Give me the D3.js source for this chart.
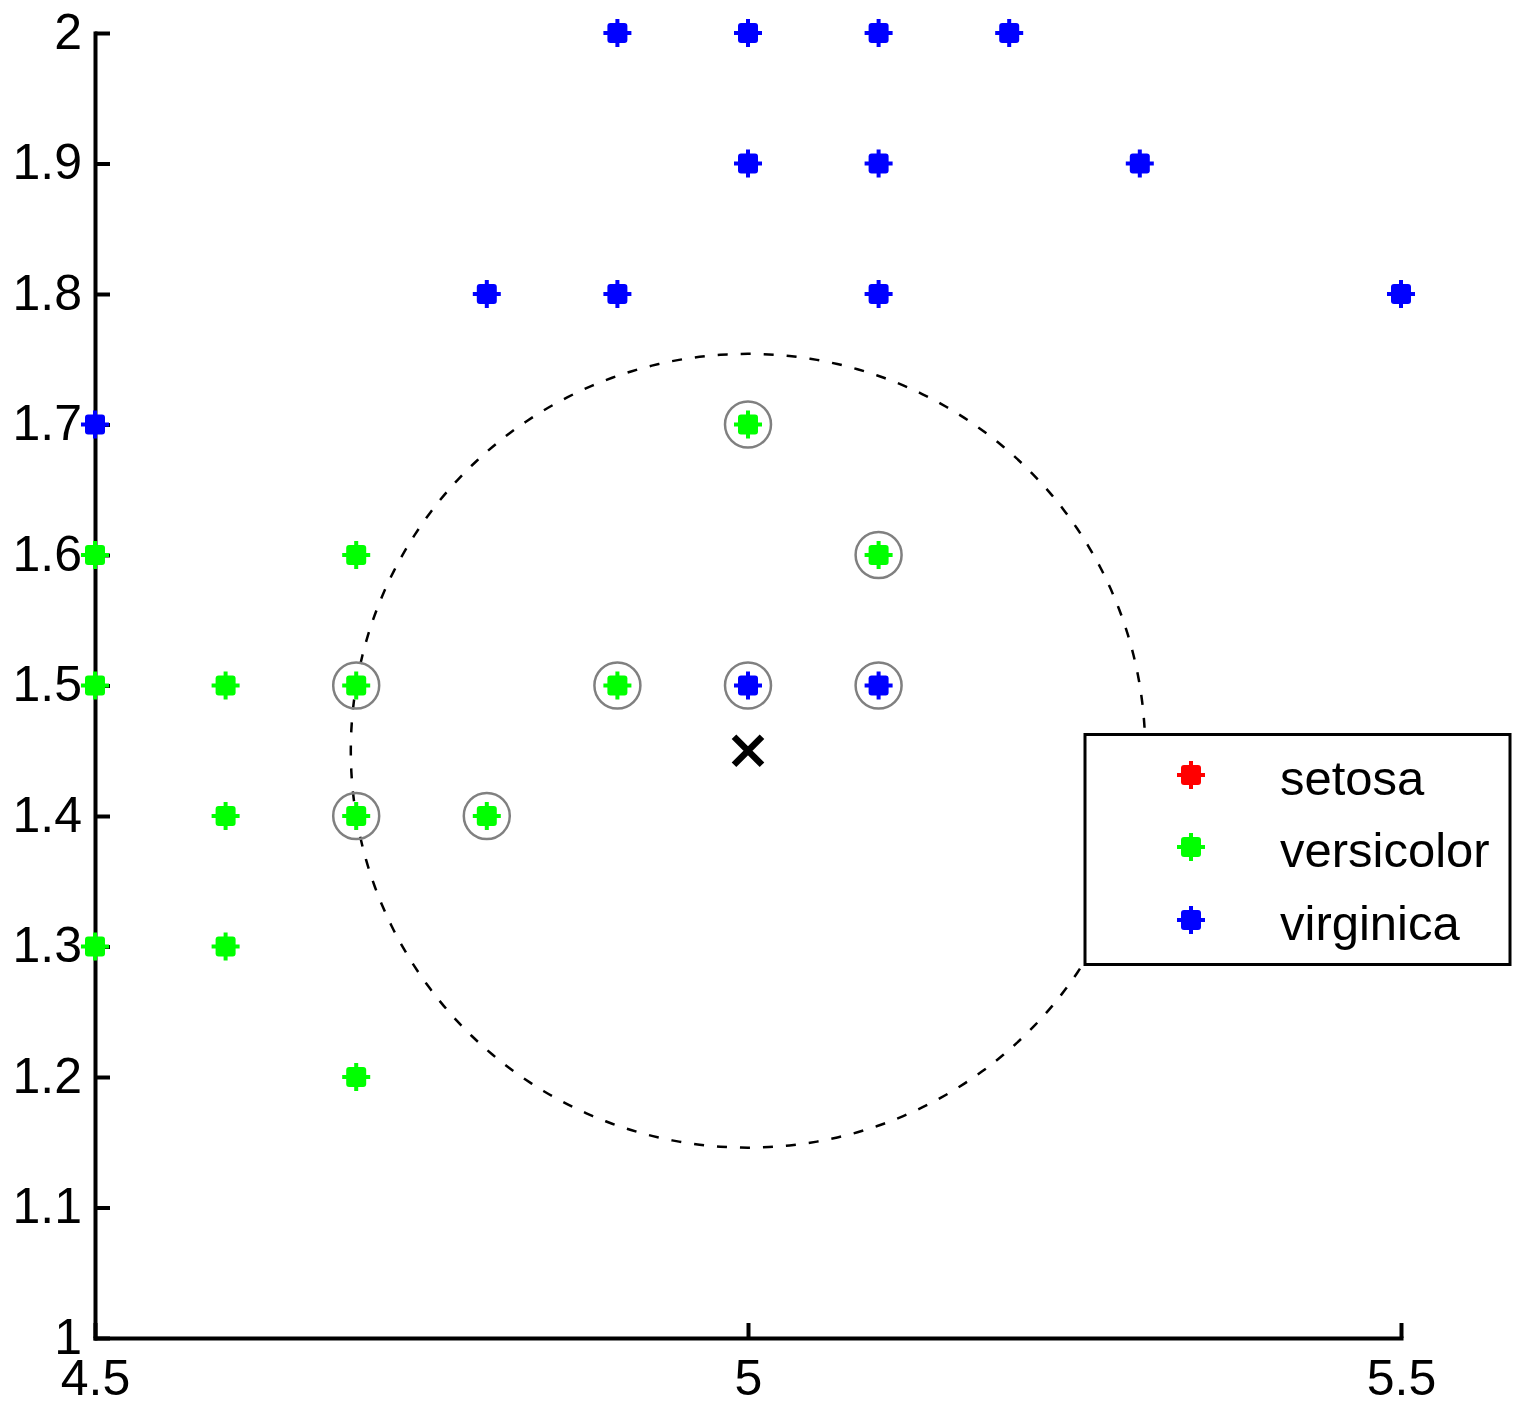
<!DOCTYPE html>
<html>
<head>
<meta charset="utf-8">
<script src="https://cdn.jsdelivr.net/npm/d3@7"></script>
<style>
  html, body { margin: 0; padding: 0; background: #fff; }
  svg { display: block; }
  text { font-family: "Liberation Sans", Arial, sans-serif; }
</style>
</head>
<body>
<script>
// ---- data ----
const classNames = ["setosa", "versicolor", "virginica"];
const classColors = ["#ff0000", "#00ff00", "#0000ff"];

const setosaX = [];
const setosaY = [];
const versicolorX = [5.0, 4.5, 4.7, 5.1, 4.5, 4.6, 4.7, 4.9, 4.6, 4.7, 4.8, 4.5, 4.6, 4.7];
const versicolorY = [1.7, 1.6, 1.6, 1.6, 1.5, 1.5, 1.5, 1.5, 1.4, 1.4, 1.4, 1.3, 1.3, 1.2];
const virginicaX = [4.9, 5.0, 5.1, 5.2, 5.0, 5.1, 5.3, 4.8, 4.9, 5.1, 5.5, 4.5, 5.0, 5.1];
const virginicaY = [2.0, 2.0, 2.0, 2.0, 1.9, 1.9, 1.9, 1.8, 1.8, 1.8, 1.8, 1.7, 1.5, 1.5];

const neighborX = [5.0, 5.1, 4.7, 4.9, 5.0, 5.1, 4.7, 4.8];
const neighborY = [1.7, 1.6, 1.5, 1.5, 1.5, 1.5, 1.4, 1.4];

const queryPoint = [5.0, 1.45];

const xTicks = [4.5, 5, 5.5];
const xTickLabels = ["4.5", "5", "5.5"];
const yTicks = [1, 1.1, 1.2, 1.3, 1.4, 1.5, 1.6, 1.7, 1.8, 1.9, 2];
const yTickLabels = ["1", "1.1", "1.2", "1.3", "1.4", "1.5", "1.6", "1.7", "1.8", "1.9", "2"];

// ---- layout ----
const W = 1518, H = 1405;
const x = d3.scaleLinear().domain([4.5, 5.5]).range([95, 1401]);
const y = d3.scaleLinear().domain([1, 2]).range([1338, 33]);

const svg = d3.select("body").append("svg").attr("width", W).attr("height", H);

// dashed neighbourhood circle
const radius = d3.max(neighborX.map((v, i) => Math.hypot(v - queryPoint[0], neighborY[i] - queryPoint[1])));
const circlePts = d3.range(0, 361).map(a => {
  const t = a * Math.PI / 180;
  return [queryPoint[0] + radius * Math.cos(t), queryPoint[1] + radius * Math.sin(t)];
});
svg.append("path")
  .attr("d", d3.line().x(d => x(d[0])).y(d => y(d[1]))(circlePts))
  .attr("fill", "none").attr("stroke", "#000").attr("stroke-width", 2.5)
  .attr("stroke-dasharray", "10 13");

// axes
const yAxis = d3.axisLeft(y).tickValues(yTicks)
  .tickFormat((d, i) => yTickLabels[i]).tickSizeInner(-15).tickSizeOuter(0).tickPadding(13);
const xAxis = d3.axisBottom(x).tickValues(xTicks)
  .tickFormat((d, i) => xTickLabels[i]).tickSizeInner(-15).tickSizeOuter(0).tickPadding(21);

const gy = svg.append("g").attr("transform", `translate(${x(4.5)},0)`).call(yAxis);
const gx = svg.append("g").attr("transform", `translate(0,${y(1)})`).call(xAxis);
[gx, gy].forEach(g => {
  g.select(".domain").attr("stroke", "#000").attr("stroke-width", 4).attr("stroke-linecap", "square");
  g.selectAll(".tick line").attr("stroke", "#000").attr("stroke-width", 4);
  g.selectAll(".tick text").attr("fill", "#000").attr("font-size", 50)
    .attr("font-family", "'Liberation Sans', Arial, sans-serif");
});
gy.selectAll(".tick text").attr("dy", "0.30em");

// marker
function marker(g, cx, cy, color) {
  const m = g.append("g").attr("transform", `translate(${cx},${cy})`).attr("fill", color);
  m.append("rect").attr("x", -10).attr("y", -10).attr("width", 20).attr("height", 20).attr("rx", 3);
  m.append("rect").attr("x", -14).attr("y", -2).attr("width", 28).attr("height", 4);
  m.append("rect").attr("x", -2).attr("y", -14).attr("width", 4).attr("height", 28);
}

// neighbour rings
svg.append("g").selectAll("circle")
  .data(neighborX.map((v, i) => [v, neighborY[i]]))
  .join("circle")
  .attr("cx", d => x(d[0])).attr("cy", d => y(d[1])).attr("r", 23)
  .attr("fill", "none").attr("stroke", "#808080").attr("stroke-width", 2.5);

// points
const series = [[setosaX, setosaY], [versicolorX, versicolorY], [virginicaX, virginicaY]];
const gp = svg.append("g");
series.forEach((s, k) => {
  s[0].forEach((v, i) => marker(gp, x(v), y(s[1][i]), classColors[k]));
});

// query point X
const qx = x(queryPoint[0]), qy = y(queryPoint[1]);
svg.append("path")
  .attr("d", `M${qx - 14},${qy - 14}L${qx + 14},${qy + 14}M${qx + 14},${qy - 14}L${qx - 14},${qy + 14}`)
  .attr("stroke", "#000").attr("stroke-width", 6.5).attr("fill", "none");

// legend
const lg = svg.append("g");
lg.append("rect").attr("x", 1085).attr("y", 734.5).attr("width", 425).attr("height", 230)
  .attr("fill", "#fff").attr("stroke", "#000").attr("stroke-width", 3);
const legendY = [775, 847, 920];
classNames.forEach((name, i) => {
  marker(lg, 1191, legendY[i], classColors[i]);
  lg.append("text").attr("x", 1280).attr("y", legendY[i] + 20)
    .attr("font-size", 49).attr("fill", "#000").text(name);
});
</script>
</body>
</html>
